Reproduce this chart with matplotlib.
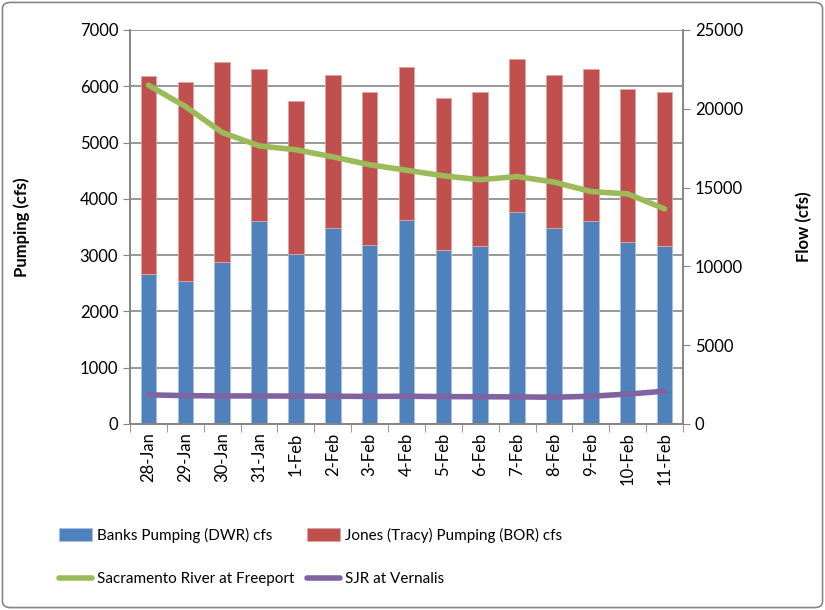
import matplotlib.pyplot as plt
import numpy as np
from matplotlib.patches import FancyBboxPatch

plt.rcParams['font.family'] = ['Liberation Sans Narrow', 'Lato', 'DejaVu Sans']

dates = ["28-Jan", "29-Jan", "30-Jan", "31-Jan", "1-Feb", "2-Feb", "3-Feb", "4-Feb",
         "5-Feb", "6-Feb", "7-Feb", "8-Feb", "9-Feb", "10-Feb", "11-Feb"]
banks = [2660, 2540, 2880, 3600, 3020, 3490, 3180, 3620, 3090, 3160, 3770, 3480, 3600, 3230, 3160]
total = [6190, 6070, 6430, 6300, 5730, 6200, 5900, 6350, 5800, 5900, 6490, 6200, 6300, 5960, 5890]
jones = [t - b for t, b in zip(total, banks)]
sacramento = [21500, 20150, 18500, 17650, 17400, 16950, 16450, 16100, 15750, 15500, 15700, 15350, 14750, 14600, 13650]
sjr = [1850, 1800, 1780, 1780, 1770, 1760, 1750, 1760, 1740, 1730, 1720, 1700, 1760, 1900, 2080]

fig = plt.figure(figsize=(8.25, 6.1), dpi=100)
ax = fig.add_axes([130 / 825, 1 - 424 / 610, 553 / 825, 394 / 610])
ax2 = ax.twinx()

x = np.arange(len(dates))
b1 = ax.bar(x, banks, width=0.42, color="#4f81bd", edgecolor="#a7c0de", linewidth=0.6, zorder=2)
b2 = ax.bar(x, jones, bottom=banks, width=0.42, color="#c0504d", edgecolor="#e0a5a3", linewidth=0.6, zorder=2)
l1, = ax2.plot(x, sacramento, color="#9bbb59", lw=4, solid_capstyle="round")
l2, = ax2.plot(x, sjr, color="#8064a2", lw=4, solid_capstyle="round")

ax.set_xlim(-0.5, len(dates) - 0.5)
ax.set_ylim(0, 7000)
ax.set_yticks(range(0, 7001, 1000))
ax2.set_ylim(0, 25000)
ax2.set_yticks(range(0, 25001, 5000))
ax.yaxis.grid(True, color="#868686", lw=1.2)
ax.set_axisbelow(True)

ax.set_xticks(x)
ax.set_xticks(np.arange(-0.5, len(dates), 1), minor=True)
ax.set_xticklabels(dates, rotation=90, fontsize=12)
ax.tick_params(axis="x", which="major", length=0, pad=6)
ax.tick_params(axis="x", which="minor", length=6, color="#868686", direction="out")
ax.tick_params(axis="y", labelsize=12, length=5, color="#868686", direction="out")
ax2.tick_params(axis="y", labelsize=12, length=5, color="#868686", direction="out")
ax.set_ylabel("Pumping (cfs)", fontsize=12, fontweight="bold")
ax2.set_ylabel("Flow (cfs)", fontsize=12, fontweight="bold", rotation=90)
ax.yaxis.set_label_coords(-0.18, 0.5)
ax2.yaxis.set_label_coords(1.205, 0.5)

for a in (ax, ax2):
    a.spines["top"].set_visible(False)
    for s in ("left", "right", "bottom"):
        a.spines[s].set_color("#868686")
        a.spines[s].set_linewidth(1.2)

leg = fig.legend([b1, l1, b2, l2],
                 ["Banks Pumping (DWR) cfs", "Sacramento River at Freeport",
                  "Jones (Tracy) Pumping (BOR) cfs", "SJR at Vernalis"],
                 loc="upper left", bbox_to_anchor=(45 / 825, 1 - 514 / 610), ncol=2,
                 frameon=False, fontsize=11, handlelength=2.2, handleheight=0.9,
                 columnspacing=0.8, labelspacing=1.9, handletextpad=0.3)

fig.patches.append(FancyBboxPatch((0.003, 0.004), 0.994, 0.992, boxstyle="round,pad=0,rounding_size=0.01",
                                  transform=fig.transFigure, fill=False, edgecolor="#868686", lw=1.2))

fig.savefig("out.png", dpi=100)
